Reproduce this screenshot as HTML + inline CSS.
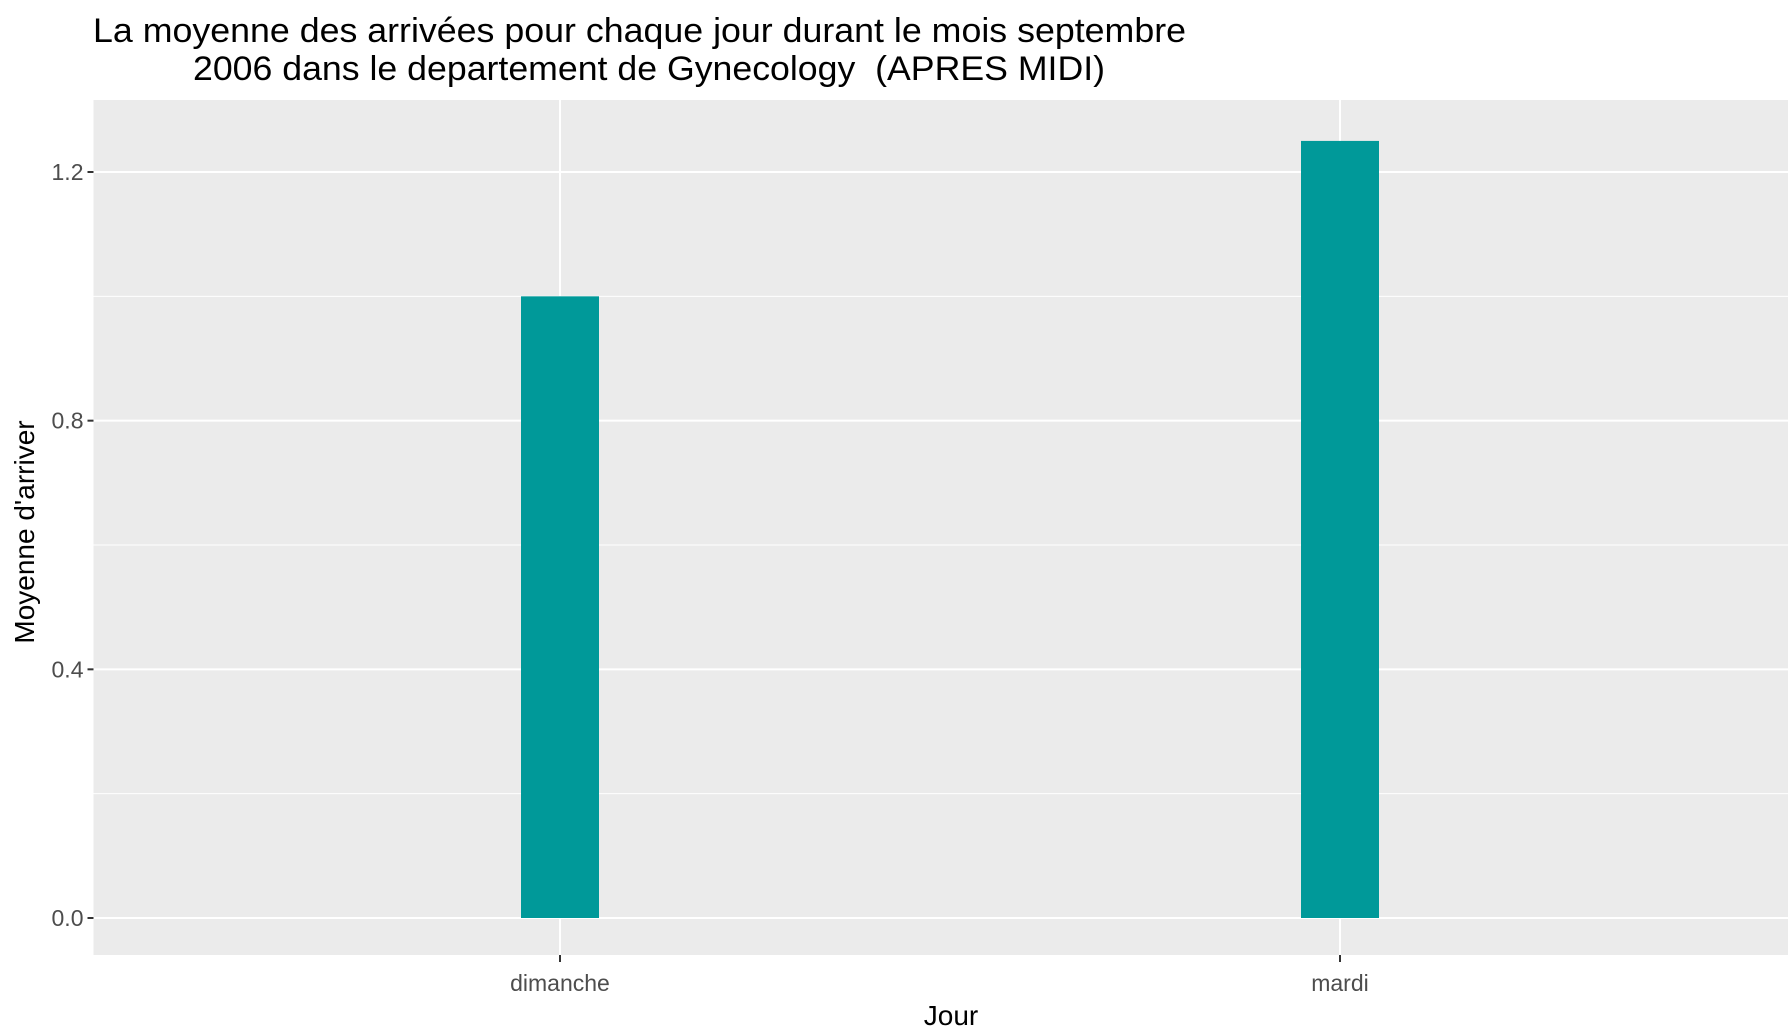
<!DOCTYPE html>
<html><head><meta charset="utf-8"><style>
html,body{margin:0;padding:0;background:#fff;}
svg{display:block;font-family:"Liberation Sans",Arial,sans-serif;}
</style></head><body>
<svg id="chart" width="1788" height="1033"></svg>
<script>
const categories = ["dimanche", "mardi"];
const values = [1.0, 1.25];
const yTicks = [0, 0.4, 0.8, 1.2];
const yTickLabels = ["0.0", "0.4", "0.8", "1.2"];
const yMinor = [0.2, 0.6, 1.0];

const NS = "http://www.w3.org/2000/svg";
const svg = document.getElementById("chart");
const P = {left: 93.5, right: 1788, top: 100, bottom: 955};
const y = v => 918 - v * (918 - 172) / 1.2;
const x = i => 560 + 780 * i;
const barW = 78;

function el(tag, attrs, parent) {
  const e = document.createElementNS(NS, tag);
  for (const k in attrs) e.setAttribute(k, attrs[k]);
  (parent || svg).appendChild(e);
  return e;
}

const title = el("text", {"font-size": 34, fill: "#000"});


const t1 = el("tspan", {x: 93, y: 42, textLength: 1093, lengthAdjust: "spacingAndGlyphs"}, title);
t1.textContent = "La moyenne des arrivées pour chaque jour durant le mois septembre";
const t2 = el("tspan", {x: 193, y: 80, textLength: 912, lengthAdjust: "spacingAndGlyphs"}, title);
t2.textContent = "2006 dans le departement de Gynecology\u00a0\u00a0(APRES MIDI)";

const panel = el("rect", {x: P.left, y: P.top, width: P.right - P.left, height: P.bottom - P.top, fill: "#ebebeb"});



yMinor.forEach(v => {
  const l = el("line", {x1: P.left, x2: P.right, y1: y(v), y2: y(v), stroke: "#fff", "stroke-width": 1});
  
  
});
yTicks.forEach((v, i) => {
  const l = el("line", {x1: P.left, x2: P.right, y1: y(v), y2: y(v), stroke: "#fff", "stroke-width": 2});
  
  
  const tk = el("line", {x1: P.left - 6, x2: P.left, y1: y(v), y2: y(v), stroke: "#333", "stroke-width": 2});
  
  
  const t = el("text", {x: P.left - 10, y: y(v) + 8, "font-size": 23, fill: "#4d4d4d", "text-anchor": "end"});
  
  
  t.textContent = yTickLabels[i];
});
categories.forEach((c, i) => {
  const l = el("line", {x1: x(i), x2: x(i), y1: P.top, y2: P.bottom, stroke: "#fff", "stroke-width": 2});
  
  
});
categories.forEach((c, i) => {
  const b = el("rect", {x: x(i) - barW / 2, y: y(values[i]), width: barW, height: y(0) - y(values[i]), fill: "#009999"});
  
  
  const tk = el("line", {x1: x(i), x2: x(i), y1: P.bottom, y2: P.bottom + 7, stroke: "#333", "stroke-width": 2});
  
  
  const t = el("text", {x: x(i), y: 991, "font-size": 23, fill: "#4d4d4d", "text-anchor": "middle"});
  
  
  t.textContent = c;
});

const xt = el("text", {x: 951, y: 1025, "font-size": 28, fill: "#000", "text-anchor": "middle"});


xt.textContent = "Jour";
const yt = el("text", {x: 0, y: 0, "font-size": 28, fill: "#000", "text-anchor": "middle", transform: "translate(34,532) rotate(-90)"});


yt.textContent = "Moyenne d'arriver";
</script>
</body></html>
